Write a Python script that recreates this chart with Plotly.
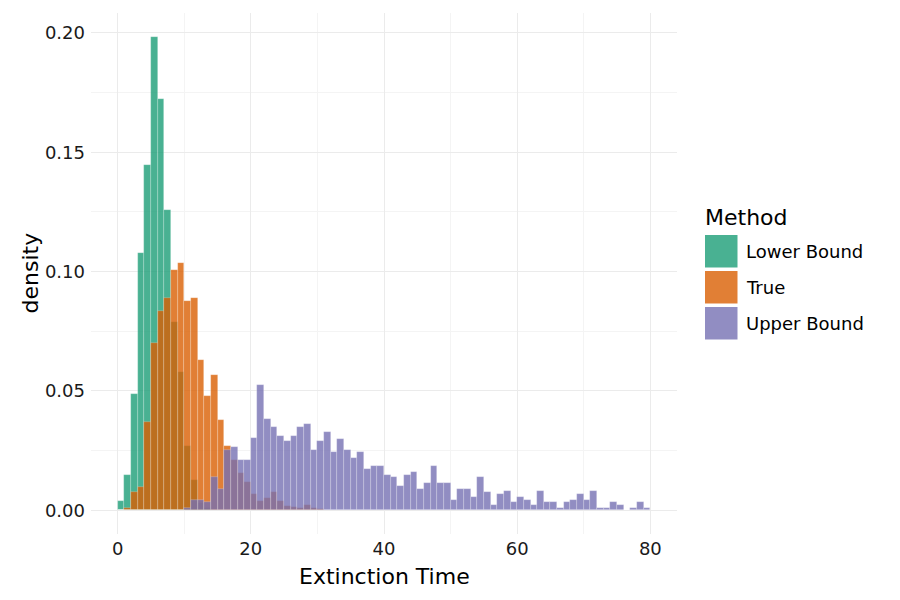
import plotly.graph_objects as go

# ---- data (density per unit-width bin, bins [k, k+1) for k = 0..79) ----
bin_starts = list(range(80))

lower_bound = [0.0039, 0.0149, 0.0488, 0.1076, 0.1445, 0.1984, 0.1724, 0.1256, 0.0787, 0.0578,
               0.0268, 0.0128, 0.0030, 0.0010] + [0.0] * 66

true_vals = [0.0, 0.0008, 0.0079, 0.0098, 0.0368, 0.0700, 0.0836, 0.0888, 0.1006, 0.1037,
             0.0877, 0.0888, 0.0628, 0.0479, 0.0567, 0.0379, 0.0268, 0.0210, 0.0156, 0.0118,
             0.0069, 0.0038, 0.0050, 0.0079, 0.0040, 0.0020, 0.0014, 0.0011, 0.0021, 0.0010,
             0.0004] + [0.0] * 49

upper_bound = [0.0] * 10 + [
    0.0008, 0.0045, 0.0045, 0.0035, 0.0140, 0.0091, 0.0254, 0.0265, 0.0210, 0.0210,
    0.0303, 0.0523, 0.0383, 0.0349, 0.0313, 0.0289, 0.0313, 0.0348, 0.0362, 0.0254,
    0.0289, 0.0327, 0.0243, 0.0300, 0.0254, 0.0219, 0.0243, 0.0173, 0.0184, 0.0184,
    0.0149, 0.0138, 0.0103, 0.0149, 0.0160, 0.0091, 0.0114, 0.0184, 0.0114, 0.0114,
    0.0045, 0.0091, 0.0091, 0.0056, 0.0138, 0.0078, 0.0021, 0.0070, 0.0081, 0.0034,
    0.0057, 0.0045, 0.0021, 0.0081, 0.0034, 0.0034, 0.0010, 0.0034, 0.0045, 0.0070,
    0.0045, 0.0081, 0.0010, 0.0010, 0.0034, 0.0021, 0.0000, 0.0010, 0.0034, 0.0010]

methods = ["Lower Bound", "True", "Upper Bound"]
series = [lower_bound, true_vals, upper_bound]
colors = ["rgba(27,158,119,0.8)", "rgba(217,95,2,0.8)", "rgba(117,112,179,0.8)"]

x_ticks = [0, 20, 40, 60, 80]
y_ticks = [0.0, 0.05, 0.10, 0.15, 0.20]

# ---- layout geometry (pixels) ----
W, H = 900, 600
ML, MR, MT, MB = 91, 223, 13, 66
PW, PH = W - ML - MR, H - MT - MB


def px_x(p):
    return (p - ML) / PW


def px_y(p):
    return (H - MB - p) / PH


FONT = "DejaVu Sans"

fig = go.Figure()
centers = [b + 0.5 for b in bin_starts]
for name, vals, col in zip(methods, series, colors):
    fig.add_trace(go.Bar(
        x=centers, y=vals, width=1.0, name=name,
        marker=dict(color=col, line=dict(color="rgba(255,255,255,0.35)", width=0.6)),
        showlegend=False, hoverinfo="x+y+name",
    ))

grid_major = "#ebebeb"
grid_minor = "#f4f4f4"

fig.update_layout(
    width=W, height=H,
    margin=dict(l=ML, r=MR, t=MT, b=MB, pad=0),
    paper_bgcolor="white", plot_bgcolor="white",
    barmode="overlay", bargap=0,
    font=dict(family=FONT, color="#1a1a1a"),
    xaxis=dict(
        range=[-4, 84], tickvals=x_ticks, ticktext=[str(v) for v in x_ticks],
        showgrid=True, gridcolor=grid_major, gridwidth=1.1,
        minor=dict(showgrid=True, dtick=10, tick0=0, gridcolor=grid_minor, gridwidth=0.7),
        zeroline=False, showline=False, ticks="",
        tickfont=dict(family=FONT, size=18, color="#1a1a1a"),
        ticklabelstandoff=2,
    ),
    yaxis=dict(
        range=[-0.0099, 0.2083], tickvals=y_ticks, ticktext=[f"{v:.2f}" for v in y_ticks],
        showgrid=True, gridcolor=grid_major, gridwidth=1.1,
        minor=dict(showgrid=True, dtick=0.025, tick0=0, gridcolor=grid_minor, gridwidth=0.7),
        zeroline=False, showline=False, ticks="",
        tickfont=dict(family=FONT, size=18, color="#1a1a1a"),
        ticklabelstandoff=5,
    ),
)

annotations = [
    dict(text="Extinction Time", xref="paper", yref="paper", x=0.5, y=px_y(576),
         xanchor="center", yanchor="middle", showarrow=False,
         font=dict(family=FONT, size=22, color="black")),
    dict(text="density", xref="paper", yref="paper", x=px_x(30), y=0.5,
         xanchor="center", yanchor="middle", textangle=-90, showarrow=False,
         font=dict(family=FONT, size=22, color="black")),
    dict(text="Method", xref="paper", yref="paper", x=px_x(703), y=px_y(217),
         xanchor="left", yanchor="middle", showarrow=False,
         font=dict(family=FONT, size=22, color="black")),
]

shapes = []
key_tops = [235, 271, 307]
for name, col, top in zip(methods, colors, key_tops):
    shapes.append(dict(type="rect", xref="paper", yref="paper",
                       x0=px_x(705), x1=px_x(737.5), y0=px_y(top + 32.5), y1=px_y(top),
                       fillcolor=col, line=dict(width=0)))
    annotations.append(dict(text=name, xref="paper", yref="paper", x=px_x(744), y=px_y(top + 16.5),
                            xanchor="left", yanchor="middle", showarrow=False,
                            font=dict(family=FONT, size=18, color="black")))

fig.update_layout(annotations=annotations, shapes=shapes)

fig.write_html("out.html")
